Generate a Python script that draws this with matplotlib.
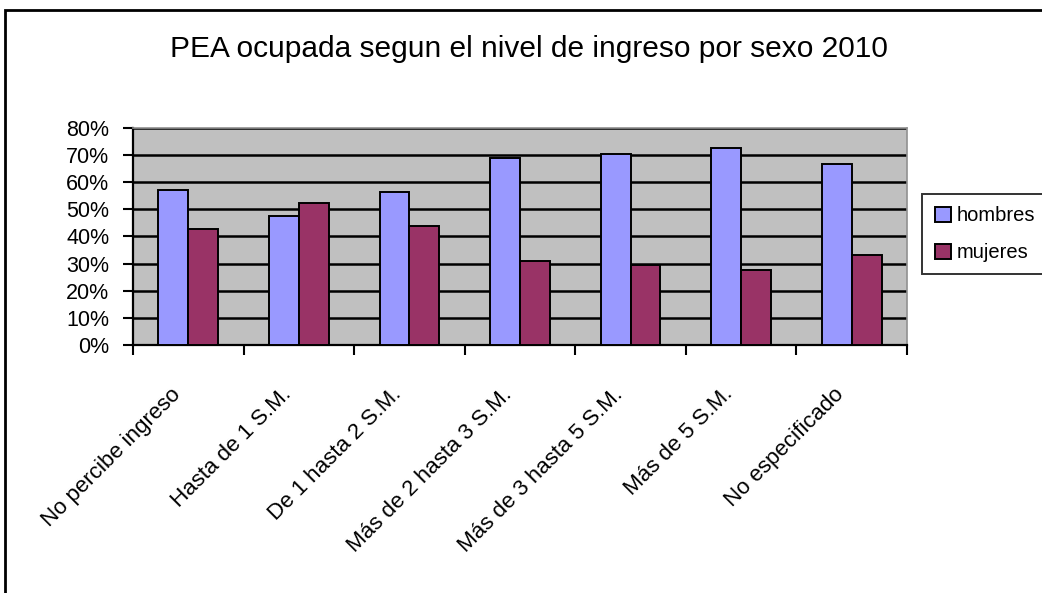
import numpy as np
import matplotlib.pyplot as plt
from matplotlib.patches import Rectangle
from matplotlib.ticker import PercentFormatter

categorias = ['No percibe ingreso', 'Hasta de 1 S.M.', 'De 1 hasta 2 S.M.',
              'Más de 2 hasta 3 S.M.', 'Más de 3 hasta 5 S.M.', 'Más de 5 S.M.',
              'No especificado']
hombres = [57.2, 47.6, 56.3, 69.1, 70.5, 72.5, 66.7]
mujeres = [42.8, 52.4, 43.7, 30.9, 29.5, 27.5, 33.3]

plt.rcParams['font.family'] = ['Liberation Sans', 'DejaVu Sans']

fig = plt.figure(figsize=(10.42, 5.93), dpi=100)
ax = fig.add_axes([0.1276, 0.4182, 0.7428, 0.366])

x = np.arange(len(categorias))
w = 0.27
ax.bar(x - w / 2, hombres, w, color='#9999FF', edgecolor='black', linewidth=1.4,
       label='hombres', zorder=3)
ax.bar(x + w / 2, mujeres, w, color='#993366', edgecolor='black', linewidth=1.4,
       label='mujeres', zorder=3)

ax.set_facecolor('#C0C0C0')
ax.set_xlim(-0.5, len(categorias) - 0.5)
ax.set_ylim(0, 80)
ax.set_yticks(np.arange(0, 81, 10))
ax.yaxis.set_major_formatter(PercentFormatter(decimals=0))
ax.yaxis.grid(True, color='black', linewidth=1.8, zorder=1)
ax.set_axisbelow(True)

ax.set_xticks(list(x - 0.5) + [len(categorias) - 0.5])
ax.set_xticklabels([])
ax.tick_params(axis='x', length=7, width=1.5, direction='out')
ax.tick_params(axis='y', length=7, width=1.5, direction='out', labelsize=15.5, pad=10)
for i, c in enumerate(categorias):
    ax.text(i - 0.1, -17, c, rotation=45, ha='right', va='center',
            rotation_mode='anchor', fontsize=16)

for s in ['left', 'bottom']:
    ax.spines[s].set_linewidth(1.6)
    ax.spines[s].set_color('black')
for s in ['top', 'right']:
    ax.spines[s].set_color('#909090')
    ax.spines[s].set_linewidth(1.2)

fig.text(0.508, 0.918, 'PEA ocupada segun el nivel de ingreso por sexo 2010',
         ha='center', va='center', fontsize=21.5)

leg = ax.legend(loc='center left', bbox_to_anchor=(1.02, 0.51), frameon=True,
                fancybox=False, edgecolor='black', fontsize=14.5, handlelength=0.8,
                handleheight=0.8, handletextpad=0.3, borderpad=0.6, labelspacing=0.9,
                borderaxespad=0)
leg.get_frame().set_linewidth(1.4)

fig.patches.append(Rectangle((5 / 1042, -0.1), 1.2, 1.1 - 10 / 593,
                             transform=fig.transFigure, fill=False,
                             edgecolor='black', linewidth=2))

fig.savefig('out.png', dpi=100)
